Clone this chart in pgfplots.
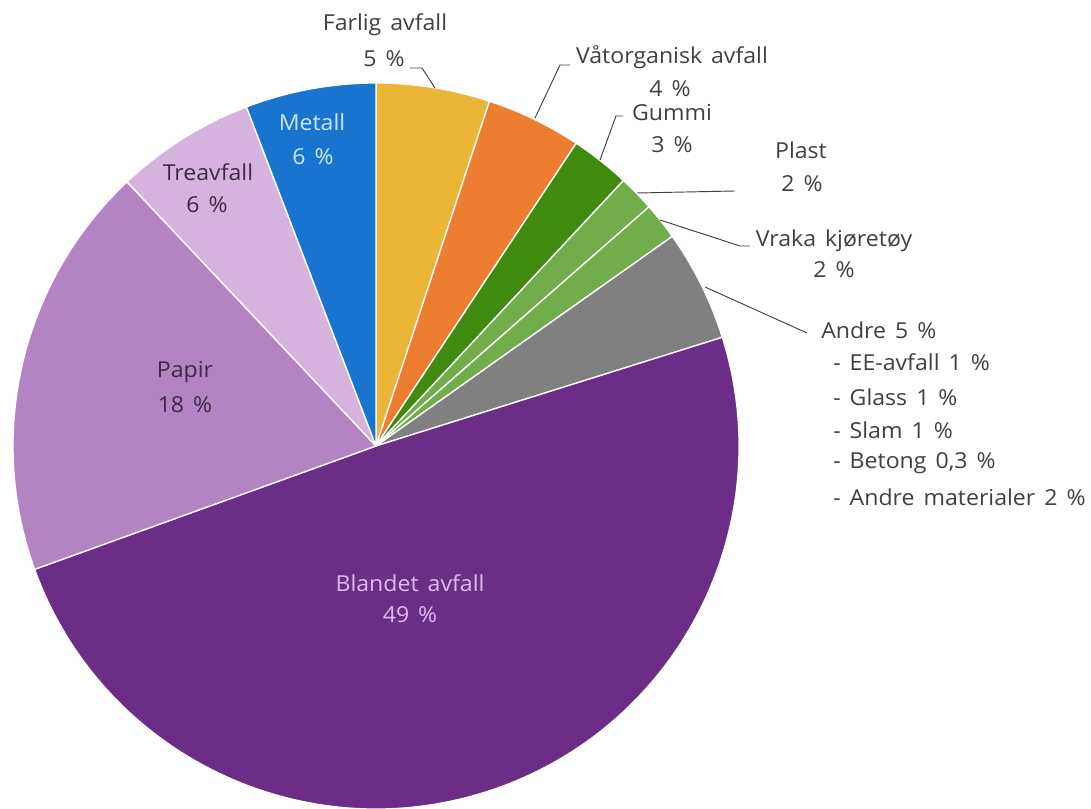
\documentclass[border=0pt]{standalone}
\usepackage{pgfplots}
\pgfplotsset{compat=1.18}
\usepackage{pgfplotstable}
\usepackage{fontspec}
\setmainfont[FakeStretch=1.05, WordSpace=1.5]{Open Sans}
\definecolor{cFar}{HTML}{EBB535}
\definecolor{cVat}{HTML}{ED7D31}
\definecolor{cGum}{HTML}{3E8B0F}
\definecolor{cLgr}{HTML}{72AD4B}
\definecolor{cGry}{HTML}{808080}
\definecolor{cBla}{HTML}{6C2D87}
\definecolor{cPap}{HTML}{B383C4}
\definecolor{cTre}{HTML}{D6B3DE}
\definecolor{cMet}{HTML}{1874CF}
\definecolor{txt}{HTML}{404040}
\definecolor{txtdark}{HTML}{3A2D40}
\definecolor{txtmet}{HTML}{CFE6FF}
\definecolor{txtbla}{HTML}{E2B8F0}
\tikzset{lbl/.style={font=\fontsize{16.5}{19}\selectfont, inner sep=0pt}}
\pgfplotstableread{
label val col
Farlig 5.06 cFar
Vat 4.24 cVat
Gummi 2.64 cGum
Plast 1.61 cLgr
Vraka 1.65 cLgr
Andre 4.96 cGry
Blandet 49.32 cBla
Papir 18.49 cPap
Tre 6.22 cTre
Metall 5.81 cMet
}\piedata
\begin{document}
\begin{tikzpicture}
\begin{axis}[
  width=818.25pt, height=606.75pt, scale only axis,
  xmin=0, xmax=1091, ymin=-809, ymax=0,
  hide axis, ticks=none, clip=false,
]
\coordinate (SW) at (axis cs:0,-809);
\coordinate (NE) at (axis cs:1091,0);
\pgfmathsetmacro{\cum}{0}
\pgfplotsforeachungrouped \i in {0,...,9}{%
  \pgfplotstablegetelem{\i}{val}\of\piedata \let\sv=\pgfplotsretval
  \pgfplotstablegetelem{\i}{col}\of\piedata \let\scol=\pgfplotsretval
  \pgfmathsetmacro{\sa}{90-3.6*\cum}
  \pgfmathsetmacro{\sb}{90-3.6*(\cum+\sv)}
  \pgfmathsetmacro{\cum}{\cum+\sv}
  \edef\slice{\noexpand\fill[fill=\scol, draw=white, line width=1pt, line join=round] (axis cs:376,-446) -- ++(\sa:272.25pt) arc[start angle=\sa, end angle=\sb, radius=272.25pt] -- cycle;}
  \slice
}
% leader lines
\draw[black!75, line width=0.7pt] (axis cs:410,-68) -- (axis cs:422,-68) -- (axis cs:435,-88);
\draw[black!75, line width=0.7pt] (axis cs:570,-65) -- (axis cs:560,-65) -- (axis cs:535,-118);
\draw[black!75, line width=0.7pt] (axis cs:623,-116) -- (axis cs:616,-116) -- (axis cs:600,-160);
\draw[black!75, line width=0.7pt] (axis cs:637,-193) -- (axis cs:735,-191);
\draw[black!75, line width=0.7pt] (axis cs:660,-220) -- (axis cs:740,-246) -- (axis cs:750,-246);
\draw[black!75, line width=0.7pt] (axis cs:705,-287) -- (axis cs:807,-333);
% outside labels
\node[lbl, txt] at (axis cs:385,-25) {Farlig avfall};
\node[lbl, txt] at (axis cs:384,-59) {5 \%};
\node[lbl, txt] at (axis cs:672,-57) {Våtorganisk avfall};
\node[lbl, txt] at (axis cs:670,-89) {4 \%};
\node[lbl, txt] at (axis cs:672,-113) {Gummi};
\node[lbl, txt] at (axis cs:672,-145) {3 \%};
\node[lbl, txt] at (axis cs:801,-150) {Plast};
\node[lbl, txt] at (axis cs:802,-184) {2 \%};
\node[lbl, txt] at (axis cs:834,-241) {Vraka kjøretøy};
\node[lbl, txt] at (axis cs:834,-270) {2 \%};
\node[lbl, txt, anchor=west] at (axis cs:821,-330) {Andre 5 \%};
\node[lbl, txt, anchor=west] at (axis cs:833,-362) {- EE-avfall 1 \%};
\node[lbl, txt, anchor=west] at (axis cs:833,-397) {- Glass 1 \%};
\node[lbl, txt, anchor=west] at (axis cs:833,-430) {- Slam 1 \%};
\node[lbl, txt, anchor=west] at (axis cs:833,-463) {- Betong 0,3 \%};
\node[lbl, txt, anchor=west] at (axis cs:833,-497) {- Andre materialer 2 \%};
% inside labels
\node[lbl, txtmet] at (axis cs:312,-122) {Metall};
\node[lbl, txtmet] at (axis cs:313,-157) {6 \%};
\node[lbl, txtdark] at (axis cs:208,-172) {Treavfall};
\node[lbl, txtdark] at (axis cs:207,-205) {6 \%};
\node[lbl, txtdark] at (axis cs:185,-372) {Papir};
\node[lbl, txtdark] at (axis cs:185,-405) {18 \%};
\node[lbl, txtbla] at (axis cs:410,-583) {Blandet avfall};
\node[lbl, txtbla] at (axis cs:410,-615) {49 \%};
\end{axis}
\pgfresetboundingbox
\path (SW) rectangle (NE);
\end{tikzpicture}
\end{document}
